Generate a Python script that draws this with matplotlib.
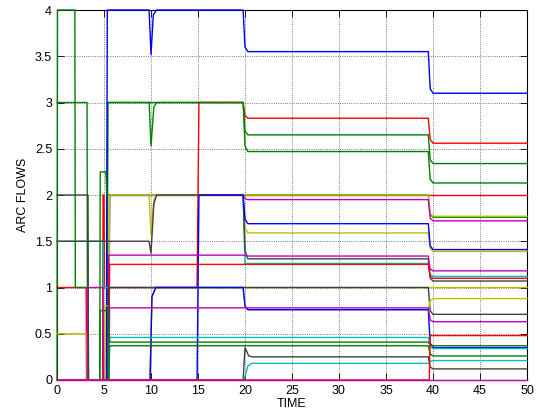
import matplotlib
matplotlib.use("Agg")
import matplotlib.pyplot as plt

plt.rcParams['font.family'] = ['Liberation Sans', 'DejaVu Sans']

# MATLAB-like colour order
BLUE = (0, 0, 1)
GREEN = (0, 0.5, 0)
RED = (1, 0, 0)
CYAN = (0, 0.75, 0.75)
MAGENTA = (0.75, 0, 0.75)
OLIVE = (0.75, 0.75, 0)
GRAY = (0.25, 0.25, 0.25)

# arc flows, (time, value) knots
red4 = [(5.6, 2.0), (50, 2.0)]
olive4 = [(0, 0), (9.9, 0), (10.1, 0.9), (10.5, 1.0), (50, 1.0)]
blue1 = [(0, 0), (5.25, 0), (5.35, 4), (9.8, 4), (10.0, 3.52), (10.25, 3.95), (10.6, 4),
         (19.8, 4), (20.0, 3.6), (20.3, 3.55), (39.5, 3.55), (39.7, 3.15), (40.0, 3.10), (50, 3.10)]
green1 = [(0, 3), (3.2, 3), (3.25, 0), (5.3, 0), (5.4, 3), (9.8, 3), (10.0, 2.53), (10.3, 2.95),
          (10.6, 3), (19.8, 3), (20.0, 2.69), (20.3, 2.65), (39.5, 2.65), (39.7, 2.38), (40.0, 2.34), (50, 2.34)]
green2 = [(0, 0), (0.05, 4), (1.9, 4), (1.95, 1.0), (3.3, 1.0), (3.35, 0), (5.3, 0), (5.4, 3),
          (19.8, 3), (20.0, 2.53), (20.3, 2.47), (39.5, 2.47), (39.7, 2.17), (40.0, 2.13), (50, 2.13)]
red1 = [(0, 1), (3.1, 1), (3.15, 0), (4.85, 0), (4.9, 2.0), (5.0, 2.0), (5.05, 1.0), (14.9, 1.0),
        (15.1, 3), (19.8, 3), (20.0, 2.86), (20.3, 2.83), (39.5, 2.83), (39.7, 2.6), (40.0, 2.56), (50, 2.56)]
red2 = [(0, 0), (5.5, 0), (5.6, 1.25), (39.5, 1.25), (39.7, 1.12), (40.0, 1.10), (50, 1.10)]
red3 = [(0, 0), (39.6, 0), (39.7, 0.48), (50, 0.48)]
olive1 = [(0, 0), (5.5, 0), (5.6, 2.0), (9.8, 2.0), (10.0, 1.57), (10.3, 1.95), (10.6, 2.0),
          (39.5, 2.0), (39.7, 1.8), (40.0, 1.77), (50, 1.77)]
magenta1 = [(0, 0), (5.5, 0), (5.6, 2.0), (19.8, 2.0), (20.0, 1.96), (20.3, 1.95), (39.5, 1.95),
            (39.7, 1.75), (40.0, 1.72), (50, 1.72)]
green3 = [(0, 0), (4.55, 0), (4.6, 2.25), (5.2, 2.25), (5.3, 2.0), (39.5, 2.0), (39.7, 1.79), (40.0, 1.76), (50, 1.76)]
blue2 = [(0, 0), (14.9, 0), (15.1, 2.0), (19.8, 2.0), (20.0, 1.74), (20.3, 1.69), (39.5, 1.69),
         (39.7, 1.45), (40.0, 1.41), (50, 1.41)]
olive2 = [(0, 0.5), (3.1, 0.5), (3.15, 0), (5.05, 0), (5.1, 0.8), (5.5, 0.8), (5.6, 2.0),
          (19.8, 2.0), (20.0, 1.65), (20.3, 1.59), (39.5, 1.59), (39.7, 1.42), (40.0, 1.39), (50, 1.39)]
magenta2 = [(0, 0), (5.45, 0), (5.5, 1.35), (19.8, 1.35), (20.3, 1.34), (39.5, 1.34), (39.7, 1.2),
            (40.0, 1.18), (50, 1.18)]
gray1 = [(0, 1.5), (9.8, 1.5), (10.0, 1.37), (10.3, 1.9), (10.6, 2.0), (19.8, 2.0), (20.0, 1.4),
         (20.3, 1.31), (39.5, 1.31), (39.7, 1.1), (40.0, 1.07), (50, 1.07)]
cyan1 = [(0, 1.5), (4.9, 1.5), (4.95, 1.0), (5.5, 1.0), (5.6, 2.0), (19.8, 2.0), (20.0, 1.26),
         (39.5, 1.26), (39.7, 1.14), (40.0, 1.12), (50, 1.12)]
gray2 = [(0, 2.0), (3.3, 2.0), (3.35, 0), (5.4, 0), (5.5, 1.0), (39.5, 1.0), (39.7, 0.75), (40.0, 0.71), (50, 0.71)]
olive3 = [(0, 0), (9.9, 0), (10.1, 0.9), (10.5, 1.0), (19.8, 1.0), (20.0, 0.8), (20.3, 0.76),
          (39.5, 0.76), (39.7, 0.86), (40.0, 0.88), (50, 0.88)]
blue3 = [(0, 0), (9.9, 0), (10.1, 0.9), (10.5, 1.0), (19.8, 1.0), (20.0, 0.8), (20.3, 0.76),
         (39.5, 0.76), (39.7, 0.4), (40.0, 0.35), (50, 0.35)]
magenta3 = [(0, 0), (3.2, 0), (3.25, 1.0), (4.9, 1.0), (4.95, 0), (5.5, 0), (5.6, 0.78),
            (39.5, 0.78), (39.7, 0.65), (40.0, 0.63), (50, 0.63)]
cyan2 = [(0, 0), (5.5, 0), (5.6, 0.46), (39.5, 0.46), (39.7, 0.36), (40.0, 0.34), (50, 0.34)]
green4 = [(0, 0), (4.55, 0), (4.6, 0.75), (5.5, 0.75), (5.6, 0.41), (39.5, 0.41), (39.7, 0.38), (40.0, 0.37), (50, 0.37)]
green5 = [(0, 0), (5.5, 0), (5.6, 0.37), (39.5, 0.37), (39.7, 0.28), (40.0, 0.26), (50, 0.26)]
gray3 = [(0, 0), (19.8, 0), (20.0, 0.35), (20.4, 0.26), (20.8, 0.25), (39.5, 0.25), (39.7, 0.14), (40.0, 0.12), (50, 0.12)]
cyan3 = [(0, 0), (19.9, 0), (20.3, 0.15), (20.7, 0.18), (39.5, 0.18), (39.7, 0.2), (40.0, 0.21), (50, 0.21)]
magenta4 = [(0, 0), (50, 0)]

series = [
    (red4, RED), (olive4, OLIVE),
    (red1, RED), (green2, GREEN), (green1, GREEN), (blue1, BLUE),
    (green3, GREEN), (olive1, OLIVE), (magenta1, MAGENTA),
    (cyan1, CYAN), (olive2, OLIVE), (gray1, GRAY), (blue2, BLUE),
    (magenta2, MAGENTA), (red2, RED), (gray2, GRAY),
    (olive3, OLIVE), (blue3, BLUE), (magenta3, MAGENTA),
    (cyan2, CYAN), (green4, GREEN), (green5, GREEN),
    (gray3, GRAY), (cyan3, CYAN), (red3, RED), (magenta4, MAGENTA),
]

fig = plt.figure(figsize=(5.36, 4.15), dpi=100)
ax = fig.add_axes([57 / 536, 1 - 380 / 415, 470 / 536, 370 / 415])

for knots, col in series:
    t = [k[0] for k in knots]
    v = [k[1] for k in knots]
    ax.plot(t, v, color=col, lw=1.0, clip_on=False)

ax.set_xlim(0, 50)
ax.set_ylim(0, 4)
ax.set_xticks(range(0, 51, 5))
ax.set_yticks([0, 0.5, 1, 1.5, 2, 2.5, 3, 3.5, 4])
ax.set_yticklabels(['0', '0.5', '1', '1.5', '2', '2.5', '3', '3.5', '4'])
ax.grid(True, linestyle=':', color='k', linewidth=0.6, alpha=0.7)
ax.tick_params(direction='in', top=True, right=True, length=5, labelsize=9, width=0.6)
for s in ax.spines.values():
    s.set_linewidth(0.8)
    s.set_zorder(1)
ax.set_xlabel('TIME', fontsize=9, labelpad=1)
ax.set_ylabel('ARC FLOWS', fontsize=9, labelpad=4)

fig.savefig('out.png', dpi=100)
